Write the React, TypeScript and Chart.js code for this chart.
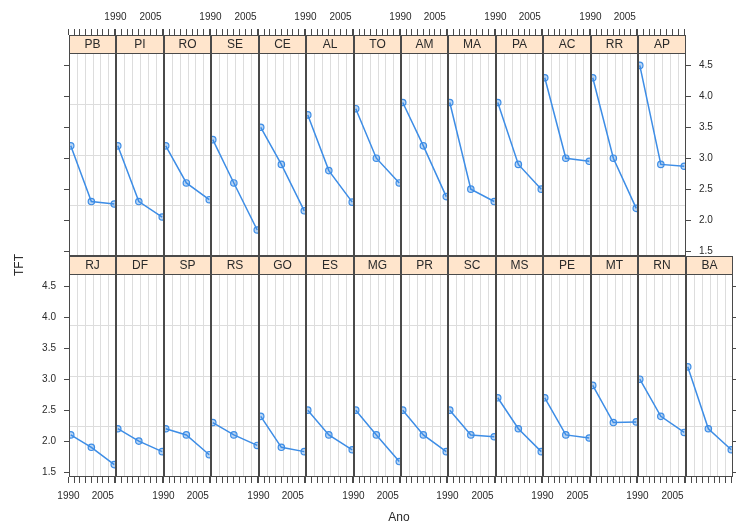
import React, { useEffect, useRef } from "react";
import { Chart, registerables } from "chart.js";

Chart.register(...registerables);

// Census years on the horizontal axis
const YEARS = [1991, 2000, 2010];

// Upper row of panels, states ordered by their 1991 fertility rate
const UPPER_STATES = ["PB", "PI", "RO", "SE", "CE", "AL", "TO", "AM", "MA", "PA", "AC", "RR", "AP"];
const UPPER_TFT = [
  [3.2, 2.3, 2.26], // PB
  [3.2, 2.3, 2.05], // PI
  [3.2, 2.6, 2.33], // RO
  [3.3, 2.6, 1.84], // SE
  [3.5, 2.9, 2.15], // CE
  [3.7, 2.8, 2.29], // AL
  [3.8, 3.0, 2.6], // TO
  [3.9, 3.2, 2.38], // AM
  [3.9, 2.5, 2.3], // MA
  [3.9, 2.9, 2.5], // PA
  [4.3, 3.0, 2.95], // AC
  [4.3, 3.0, 2.19], // RR
  [4.5, 2.9, 2.87], // AP
];

// Lower row of panels
const LOWER_STATES = ["RJ", "DF", "SP", "RS", "GO", "ES", "MG", "PR", "SC", "MS", "PE", "MT", "RN", "BA"];
const LOWER_TFT = [
  [2.1, 1.9, 1.62], // RJ
  [2.2, 2.0, 1.83], // DF
  [2.2, 2.1, 1.78], // SP
  [2.3, 2.1, 1.93], // RS
  [2.4, 1.9, 1.83], // GO
  [2.5, 2.1, 1.86], // ES
  [2.5, 2.1, 1.67], // MG
  [2.5, 2.1, 1.83], // PR
  [2.5, 2.1, 2.07], // SC
  [2.7, 2.2, 1.83], // MS
  [2.7, 2.1, 2.05], // PE
  [2.9, 2.3, 2.31], // MT
  [3.0, 2.4, 2.14], // RN
  [3.2, 2.2, 1.86], // BA
];

const X_TICKS = [1990, 1992.5, 1995, 1997.5, 2000, 2002.5, 2005, 2007.5, 2010];
const X_TICK_LABELS = [1990, 2005];
const Y_TICKS = [1.5, 2.0, 2.5, 3.0, 3.5, 4.0, 4.5];

// Axis limits (data range padded by 4% on each side)
const X_MIN = 1990.24;
const X_MAX = 2010.76;
const Y_MIN = 1.42;
const Y_PANEL_MAX = 4.7;

// Layout
const GRID_LEFT = 69;
const GRID_RIGHT = 733;
const N_COLS = 14;
const ROW_TOP = [35, 256];
const ROW_H = 221;
const STRIP_H = 18;
const MX = 44;
const MT = 40;
const MB = 40;

const FONT = "'Liberation Sans', Arial, Helvetica, sans-serif";
const LINE_COLOR = "#3d8de6";
const POINT_FILL = "rgba(61,141,230,0.35)";
const GRID_COLOR = "#dddddd";
const FRAME_COLOR = "#4a4a4a";
const STRIP_BG = "#ffe5cc";
const TEXT_COLOR = "#2a2a2a";

const PX_PER_UNIT = (ROW_H - STRIP_H) / (Y_PANEL_MAX - Y_MIN);
const Y_MAX = Y_PANEL_MAX + STRIP_H / PX_PER_UNIT;

const colEdge = (i: number) => Math.round(GRID_LEFT + ((GRID_RIGHT - GRID_LEFT) * i) / N_COLS);

function makeDecor(label: string) {
  return {
    id: "panelDecor",
    beforeDatasetsDraw(chart: any) {
      const { ctx, chartArea: a } = chart;
      const sb = Math.round(chart.scales.y.getPixelForValue(Y_PANEL_MAX));
      const w = a.right - a.left;
      const h = a.bottom - sb;
      ctx.save();
      ctx.strokeStyle = GRID_COLOR;
      ctx.lineWidth = 1;
      ctx.beginPath();
      for (let k = 1; k <= 5; k++) {
        const x = Math.round(a.left + (w * k) / 6) + 0.5;
        ctx.moveTo(x, sb);
        ctx.lineTo(x, a.bottom);
      }
      for (let k = 1; k <= 3; k++) {
        const y = Math.round(sb + (h * k) / 4) + 0.5;
        ctx.moveTo(a.left, y);
        ctx.lineTo(a.right, y);
      }
      ctx.stroke();
      ctx.restore();
    },
    afterDatasetsDraw(chart: any) {
      const { ctx, chartArea: a } = chart;
      const sb = Math.round(chart.scales.y.getPixelForValue(Y_PANEL_MAX));
      const w = a.right - a.left;
      ctx.save();
      // strip
      ctx.fillStyle = STRIP_BG;
      ctx.fillRect(a.left, a.top, w, sb - a.top);
      ctx.strokeStyle = FRAME_COLOR;
      ctx.lineWidth = 1;
      ctx.beginPath();
      ctx.moveTo(a.left, sb + 0.5);
      ctx.lineTo(a.right, sb + 0.5);
      ctx.stroke();
      ctx.fillStyle = TEXT_COLOR;
      ctx.font = `12px ${FONT}`;
      ctx.textAlign = "center";
      ctx.textBaseline = "middle";
      ctx.fillText(label, (a.left + a.right) / 2, (a.top + sb) / 2 + 1);
      // frame
      ctx.strokeRect(a.left + 0.5, a.top + 0.5, w - 1, a.bottom - a.top - 1);
      ctx.restore();
    },
  };
}

type PanelProps = { label: string; values: number[]; row: number; col: number };

function Panel({ label, values, row, col }: PanelProps) {
  const ref = useRef<HTMLCanvasElement>(null);
  const left = colEdge(col);
  const right = colEdge(col + 1);
  const top = ROW_TOP[row];
  const width = right - left + 2 * MX;
  const height = ROW_H + MT + MB;

  useEffect(() => {
    const isTop = row === 0;
    const leftAxis = col === 0;
    const rightAxis = (isTop && col === UPPER_STATES.length - 1) || (!isTop && col === LOWER_STATES.length - 1);
    const hasY = leftAxis || rightAxis;
    const yLabels = (leftAxis && !isTop) || (rightAxis && isTop);
    const xLabels = isTop ? col % 2 === 1 : col % 2 === 0;

    const chart = new Chart(ref.current as HTMLCanvasElement, {
      type: "line",
      data: {
        datasets: [
          {
            data: YEARS.map((x, i) => ({ x, y: values[i] })),
            borderColor: LINE_COLOR,
            borderWidth: 1.5,
            pointRadius: 3.2,
            pointBorderWidth: 1.2,
            pointBorderColor: LINE_COLOR,
            pointBackgroundColor: POINT_FILL,
            tension: 0,
          },
        ],
      },
      plugins: [makeDecor(label)],
      options: {
        animation: false,
        responsive: false,
        events: [],
        layout: {
          autoPadding: false,
          padding: {
            left: leftAxis ? 0 : MX,
            right: rightAxis ? 0 : MX,
            top: isTop ? 0 : MT,
            bottom: isTop ? MB : 0,
          },
        },
        plugins: { legend: { display: false }, tooltip: { enabled: false } },
        scales: {
          x: {
            type: "linear",
            position: isTop ? "top" : "bottom",
            min: X_MIN,
            max: X_MAX,
            afterBuildTicks: (s: any) => {
              s.ticks = X_TICKS.map((value) => ({ value }));
            },
            afterFit: (s: any) => {
              s.height = isTop ? MT : MB;
            },
            ticks: {
              autoSkip: false,
              maxRotation: 0,
              minRotation: 0,
              padding: isTop ? 6 : 7,
              color: TEXT_COLOR,
              font: { family: FONT, size: 10 },
              callback: (v: any) => (xLabels && X_TICK_LABELS.includes(Number(v)) ? String(v) : ""),
            },
            grid: {
              display: true,
              drawOnChartArea: false,
              drawTicks: true,
              tickLength: 6,
              tickColor: FRAME_COLOR,
              tickWidth: 1,
            },
            border: { display: false },
          },
          y: {
            type: "linear",
            display: hasY,
            position: rightAxis ? "right" : "left",
            min: Y_MIN,
            max: Y_MAX,
            afterBuildTicks: (s: any) => {
              s.ticks = Y_TICKS.map((value) => ({ value }));
            },
            afterFit: (s: any) => {
              s.width = hasY ? MX : 0;
            },
            ticks: {
              autoSkip: false,
              padding: 8,
              color: TEXT_COLOR,
              font: { family: FONT, size: 10 },
              callback: (v: any) => (yLabels ? Number(v).toFixed(1) : ""),
            },
            grid: {
              display: true,
              drawOnChartArea: false,
              drawTicks: true,
              tickLength: 5,
              tickColor: FRAME_COLOR,
              tickWidth: 1,
            },
            border: { display: false },
          },
        },
      } as any,
    });
    return () => chart.destroy();
  }, [label, values, row, col]);

  return (
    <canvas
      ref={ref}
      width={width}
      height={height}
      style={{ position: "absolute", left: left - MX, top: top - MT, width, height }}
    />
  );
}

export default function App() {
  return (
    <div
      style={{
        position: "absolute",
        left: 0,
        top: 0,
        width: 736,
        height: 527,
        background: "#ffffff",
        overflow: "hidden",
        fontFamily: FONT,
      }}
    >
      {UPPER_STATES.map((s, i) => (
        <Panel key={s} label={s} values={UPPER_TFT[i]} row={0} col={i} />
      ))}
      {LOWER_STATES.map((s, i) => (
        <Panel key={s} label={s} values={LOWER_TFT[i]} row={1} col={i} />
      ))}
      <div
        style={{
          position: "absolute",
          left: 399,
          top: 510,
          fontSize: 12,
          color: TEXT_COLOR,
          transform: "translateX(-50%)",
          whiteSpace: "nowrap",
        }}
      >
        Ano
      </div>
      <div
        style={{
          position: "absolute",
          left: 19,
          top: 265,
          fontSize: 12,
          color: TEXT_COLOR,
          transform: "translate(-50%, -50%) rotate(-90deg)",
          whiteSpace: "nowrap",
        }}
      >
        TFT
      </div>
    </div>
  );
}
